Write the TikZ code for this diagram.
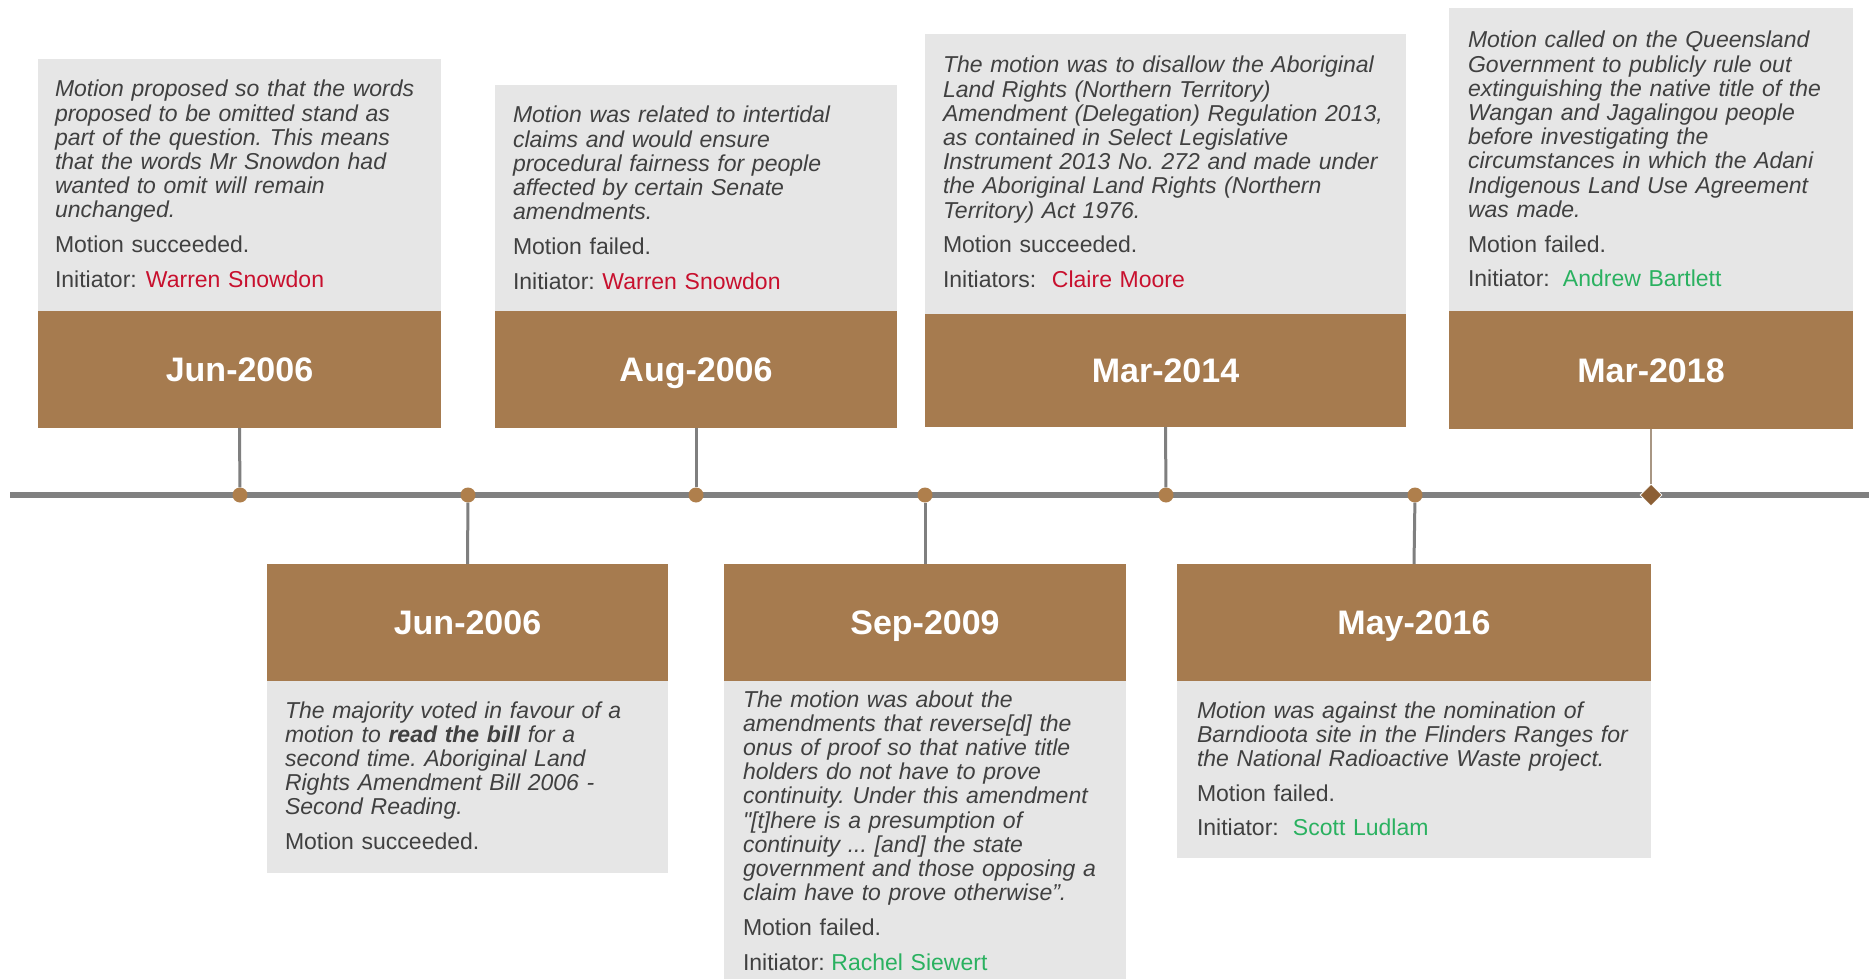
\documentclass[tikz,border=0pt]{standalone}
\usepackage{fontspec}
\setmainfont{Liberation Sans}
\newfontfamily\plainq{Liberation Sans}[Ligatures=TeXOff]
\usetikzlibrary{shapes.geometric}
\definecolor{brownbox}{HTML}{A67B4F}
\definecolor{boxgray}{HTML}{E6E6E6}
\definecolor{linegray}{HTML}{808080}
\definecolor{stemgray}{HTML}{7F7F7F}
\definecolor{dotbrown}{HTML}{AF7F4C}
\definecolor{diabrown}{HTML}{8C5F35}
\definecolor{thinstem}{HTML}{A89683}
\definecolor{txtgray}{HTML}{404040}
\definecolor{namered}{HTML}{C8102E}
\definecolor{namegreen}{HTML}{2AB160}
\newcommand{\gap}{\\[10.5pt]}
\newcommand{\fl}{\rule{0pt}{18pt}}
\frenchspacing
\tikzset{
  graybox/.style={fill=boxgray, draw=none, inner sep=0pt, outer sep=0pt, anchor=north west},
  datebox/.style={fill=brownbox, draw=none, inner sep=0pt, outer sep=0pt, anchor=north west,
    text=white, text height=24.4pt, text depth=0pt, font=\fontsize{34}{40}\selectfont\bfseries},
  desc/.style={anchor=north west, inner sep=0pt, outer sep=0pt, align=left, text width=470pt,
    text=txtgray, font=\fontsize{23}{24.2}\selectfont\frenchspacing},
  dot/.style={circle, fill=dotbrown, draw=none, inner sep=0pt, minimum size=15pt},
  enddot/.style={diamond, fill=diabrown, draw=white, line width=0.8pt, inner sep=0pt, minimum size=22pt},
  stem/.style={draw=stemgray, line width=3pt},
  thinstemline/.style={draw=thinstem, line width=2pt},
  timeline/.style={draw=linegray, line width=6pt},
}
\begin{document}
\begin{tikzpicture}[x=1pt,y=-1pt]
\fill[white] (0,0) rectangle (1869,979);
\useasboundingbox (0,0) rectangle (1869,979);

% ---------- top boxes ----------
\node[graybox, minimum width=403pt, minimum height=252pt] (g1) at (38,59) {};
\node[datebox, minimum width=403pt, minimum height=117pt] (dJunA) at (38,311) {Jun-2006};
\node[desc] (t1) at (55,79) {\fl{\itshape Motion proposed so that the words\\
proposed to be omitted stand as\\
part of the question. This means\\
that the words Mr Snowdon had\\
wanted to omit will remain\\
unchanged.}\gap
Motion succeeded.\gap
Initiator: \hspace{1.5pt}{\color{namered}Warren Snowdon}};

\node[graybox, minimum width=402pt, minimum height=226pt] (g2) at (495,85) {};
\node[datebox, minimum width=402pt, minimum height=117pt] (dAug) at (495,311) {Aug-2006};
\node[desc] (t2) at (513,105) {\fl{\itshape Motion was related to intertidal\\
claims and would ensure\\
procedural fairness for people\\
affected by certain Senate\\
amendments.}\gap
Motion failed.\gap
Initiator: \hspace{0pt}{\color{namered}Warren Snowdon}};

\node[graybox, minimum width=481pt, minimum height=280pt] (g3) at (925,34) {};
\node[datebox, minimum width=481pt, minimum height=113pt] (dMarA) at (925,314) {Mar-2014};
\node[desc] (t3) at (943,55) {\fl{\itshape The motion was to disallow the Aboriginal\\
Land Rights (Northern Territory)\\
Amendment (Delegation) Regulation 2013,\\
as contained in Select Legislative\\
Instrument 2013 No. 272 and made under\\
the Aboriginal Land Rights (Northern\\
Territory) Act 1976.}\gap
Motion succeeded.\gap
Initiators: \hspace{8pt}{\color{namered}Claire Moore}};

\node[graybox, minimum width=404pt, minimum height=303pt] (g4) at (1449,8) {};
\node[datebox, minimum width=404pt, minimum height=118pt] (dMarB) at (1449,311) {Mar-2018};
\node[desc] (t4) at (1468,30) {\fl{\itshape Motion called on the Queensland\\
Government to publicly rule out\\
extinguishing the native title of the\\
Wangan and Jagalingou people\\
before investigating the\\
circumstances in which the Adani\\
Indigenous Land Use Agreement\\
was made.}\gap
Motion failed.\gap
Initiator: \hspace{5.5pt}{\color{namegreen}Andrew Bartlett}};

% ---------- bottom boxes ----------
\node[graybox, minimum width=401pt, minimum height=192pt] (g5) at (267,681) {};
\node[datebox, minimum width=401pt, minimum height=117pt] (dJunB) at (267,564) {Jun-2006};
\node[desc] (t5) at (285,700) {\fl{\itshape The majority voted in favour of a\\
motion to \textbf{read the bill} for a\\
second time. Aboriginal Land\\
Rights Amendment Bill 2006 -\\
Second Reading.}\gap
Motion succeeded.};

\node[graybox, minimum width=402pt, minimum height=298pt] (g6) at (724,681) {};
\node[datebox, minimum width=402pt, minimum height=117pt] (dSep) at (724,564) {Sep-2009};
\node[desc] (t6) at (743,689) {\fl{\itshape The motion was about the\\
amendments that reverse[d] the\\
onus of proof so that native title\\
holders do not have to prove\\
continuity. Under this amendment\\
{\plainq\itshape "}[t]here is a presumption of\\
continuity ... [and] the state\\
government and those opposing a\\
claim have to prove otherwise”.}\gap
Motion failed.\gap
Initiator: \hspace{-1pt}{\color{namegreen}Rachel Siewert}};

\node[graybox, minimum width=474pt, minimum height=177pt] (g7) at (1177,681) {};
\node[datebox, minimum width=474pt, minimum height=117pt] (dMay) at (1177,564) {May-2016};
\node[desc] (t7) at (1197,700) {\fl{\itshape Motion was against the nomination of\\
Barndioota site in the Flinders Ranges for\\
the National Radioactive Waste project.}\gap
Motion failed.\gap
Initiator: \hspace{6.5pt}{\color{namegreen}Scott Ludlam}};

% ---------- timeline ----------
\coordinate (tlstart) at (10,495);
\coordinate (tlend) at (1869,495);
\draw[timeline] (tlstart) -- (tlend);

\node[dot] (p1) at (240,495) {};
\node[dot] (p2) at (468,495) {};
\node[dot] (p3) at (696,495) {};
\node[dot] (p4) at (925,495) {};
\node[dot] (p5) at (1166,495) {};
\node[dot] (p6) at (1415,495) {};
\node[enddot] (p7) at (1651,495) {};

\draw[stem] (dJunA.south) -- (p1);
\draw[stem] (p2) -- (dJunB.north);
\draw[stem] (dAug.south) -- (p3);
\draw[stem] (p4) -- (dSep.north);
\draw[stem] (dMarA.south) -- (p5);
\draw[stem] (p6) -- (dMay.north);
\draw[thinstemline] (dMarB.south) -- (p7);
\end{tikzpicture}
\end{document}
